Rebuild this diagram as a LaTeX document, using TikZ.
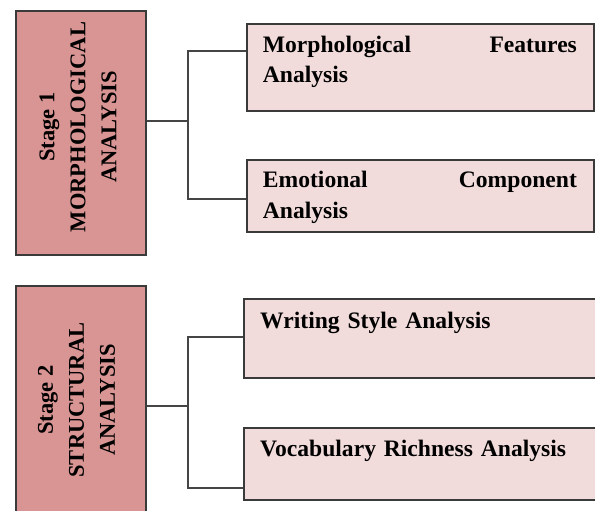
\documentclass[tikz,border=0pt]{standalone}
\usepackage{fontspec}
\setmainfont{Liberation Serif}
\definecolor{stagefill}{HTML}{D99594}
\definecolor{subfill}{HTML}{F2DCDB}
\definecolor{edge}{HTML}{3A3A3A}
\definecolor{wire}{HTML}{454545}
\tikzset{
  stagebox/.style={draw=edge, line width=1.2pt, fill=stagefill, inner sep=0pt},
  subbox/.style={draw=edge, line width=1.2pt, fill=subfill, inner sep=0pt},
  stagetxt/.style={rotate=90, align=center, inner sep=0pt, font=\fontsize{22.5}{31}\selectfont\bfseries},
  subtxt/.style={anchor=north west, inner sep=0pt, align=left, font=\fontsize{23.6}{30.5}\selectfont\bfseries},
  wirestyle/.style={draw=wire, line width=1.2pt}
}
\begin{document}
\begin{tikzpicture}[x=1pt,y=-1pt]
\clip (0,0) rectangle (595,511);
\fill[white] (0,0) rectangle (595,511);
% Stage 1
\node[stagebox, minimum width=130pt, minimum height=244pt] (s1) at (81,133) {};
\node[stagetxt] (s1t) at (78,127) {Stage 1\\MORPHOLOGICAL\\ANALYSIS};
\node[subbox, minimum width=347pt, minimum height=87pt] (b11) at (420.5,67.5) {};
\node[subbox, minimum width=347pt, minimum height=72pt] (b12) at (420.5,196) {};
\node[subtxt, text width=314pt] (t11) at (262.7,35.3) {\rule{0pt}{17pt}Morphological\hfill Features\\Analysis};
\node[subtxt, text width=314pt] (t12) at (262.7,170.7) {\rule{0pt}{17pt}Emotional\hfill Component\\Analysis};
\coordinate (j1) at (188,121);
\coordinate (u1) at (188,51);
\coordinate (d1) at (188,199);
\draw[wirestyle] (s1.east |- j1) -- (j1);
\draw[wirestyle] (b11.west |- u1) -- (u1) -- (d1) -- (b12.west |- d1);
% Stage 2
\node[stagebox, minimum width=130pt, minimum height=240pt] (s2) at (81,406) {};
\node[stagetxt] (s2t) at (76.5,400) {Stage 2\\STRUCTURAL\\ANALYSIS};
\node[subbox, minimum width=358pt, minimum height=79pt] (b21) at (423,338.5) {};
\node[subbox, minimum width=358pt, minimum height=72pt] (b22) at (423,464) {};
\node[subtxt, text width=314pt] (t21) at (260,311) {\rule{0pt}{17pt}Writing Style Analysis};
\node[subtxt, text width=314pt] (t22) at (260,439.7) {\rule{0pt}{17pt}Vocabulary Richness Analysis};
\coordinate (j2) at (188,406);
\coordinate (u2) at (188,337);
\coordinate (d2) at (188,488);
\draw[wirestyle] (s2.east |- j2) -- (j2);
\draw[wirestyle] (b21.west |- u2) -- (u2) -- (d2) -- (b22.west |- d2);
\end{tikzpicture}
\end{document}
